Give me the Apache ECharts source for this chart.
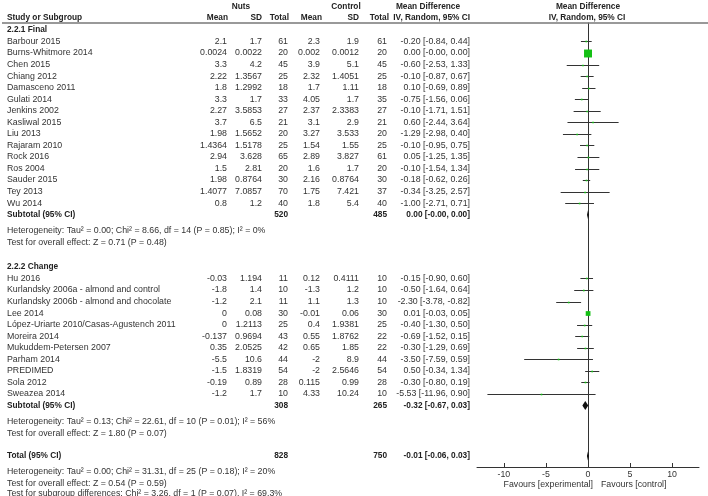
<!DOCTYPE html>
<html>
<head>
<meta charset="utf-8">
<script src="https://cdn.jsdelivr.net/npm/echarts@6/dist/echarts.min.js"></script>
<style>
html, body { margin: 0; padding: 0; background: #fff; }
#chart { width: 708px; height: 496px; }
</style>
</head>
<body>
<div id="chart"></div>
<script>
// 2.2.1 Final
const studies1 = ['Barbour 2015', 'Burns-Whitmore 2014', 'Chen 2015', 'Chiang 2012', 'Damasceno 2011', 'Gulati 2014', 'Jenkins 2002', 'Kasliwal 2015', 'Liu 2013', 'Rajaram 2010', 'Rock 2016', 'Ros 2004', 'Sauder 2015', 'Tey 2013', 'Wu 2014']
const nutsMean1 = ['2.1', '0.0024', '3.3', '2.22', '1.8', '3.3', '2.27', '3.7', '1.98', '1.4364', '2.94', '1.5', '1.98', '1.4077', '0.8']
const nutsSD1 = ['1.7', '0.0022', '4.2', '1.3567', '1.2992', '1.7', '3.5853', '6.5', '1.5652', '1.5178', '3.628', '2.81', '0.8764', '7.0857', '1.2']
const nutsN1 = [61, 20, 45, 25, 18, 33, 27, 21, 20, 25, 65, 20, 30, 70, 40]
const ctrlMean1 = ['2.3', '0.002', '3.9', '2.32', '1.7', '4.05', '2.37', '3.1', '3.27', '1.54', '2.89', '1.6', '2.16', '1.75', '1.8']
const ctrlSD1 = ['1.9', '0.0012', '5.1', '1.4051', '1.11', '1.7', '2.3383', '2.9', '3.533', '1.55', '3.827', '1.7', '0.8764', '7.421', '5.4']
const ctrlN1 = [61, 20, 45, 25, 18, 35, 27, 21, 20, 25, 61, 20, 30, 37, 40]
const md1 = [-0.20, 0.0004, -0.60, -0.10, 0.10, -0.75, -0.10, 0.60, -1.29, -0.10, 0.05, -0.10, -0.18, -0.34, -1.00]
const lo1 = [-0.84, -0.0007, -2.53, -0.87, -0.69, -1.56, -1.71, -2.44, -2.98, -0.95, -1.25, -1.54, -0.62, -3.25, -2.71]
const hi1 = [0.44, 0.0015, 1.33, 0.67, 0.89, 0.06, 1.51, 3.64, 0.40, 0.75, 1.35, 1.34, 0.26, 2.57, 0.71]
const weight1 = [0.5, 70, 0.3, 0.5, 0.5, 0.5, 0.3, 0.2, 0.3, 0.5, 0.4, 0.3, 1, 0.2, 0.3]

// 2.2.2 Change
const studies2 = ['Hu 2016', 'Kurlandsky 2006a - almond and control', 'Kurlandsky 2006b - almond and chocolate', 'Lee 2014', 'López-Uriarte 2010/Casas-Agustench 2011', 'Moreira 2014', 'Mukuddem-Petersen 2007', 'Parham 2014', 'PREDIMED', 'Sola 2012', 'Sweazea 2014']
const nutsMean2 = ['-0.03', '-1.8', '-1.2', '0', '0', '-0.137', '0.35', '-5.5', '-1.5', '-0.19', '-1.2']
const nutsSD2 = ['1.194', '1.4', '2.1', '0.08', '1.2113', '0.9694', '2.0525', '10.6', '1.8319', '0.89', '1.7']
const nutsN2 = [11, 10, 11, 30, 25, 43, 42, 44, 54, 28, 10]
const ctrlMean2 = ['0.12', '-1.3', '1.1', '-0.01', '0.4', '0.55', '0.65', '-2', '-2', '0.115', '4.33']
const ctrlSD2 = ['0.4111', '1.2', '1.3', '0.06', '1.9381', '1.8762', '1.85', '8.9', '2.5646', '0.99', '10.24']
const ctrlN2 = [10, 10, 10, 30, 25, 22, 22, 44, 54, 28, 10]
const md2 = [-0.15, -0.50, -2.30, 0.01, -0.40, -0.69, -0.30, -3.50, 0.50, -0.30, -5.53]
const lo2 = [-0.90, -1.64, -3.78, -0.03, -1.30, -1.52, -1.29, -7.59, -0.34, -0.80, -11.96]
const hi2 = [0.60, 0.64, -0.82, 0.05, 0.50, 0.15, 0.69, 0.59, 1.34, 0.19, 0.90]
const weight2 = [0.5, 0.4, 0.3, 25, 0.5, 0.5, 0.4, 0.1, 0.5, 1, 0.05]

// pooled: [nuts total, control total, md, lo, hi]
const subtotal1 = [520, 485, 0.0004, -0.0007, 0.0015]
const subtotal2 = [308, 265, -0.32, -0.67, 0.03]
const total = [828, 750, -0.01, -0.06, 0.03]

const het1 = 'Heterogeneity: Tau² = 0.00; Chi² = 8.66, df = 14 (P = 0.85); I² = 0%'
const eff1 = 'Test for overall effect: Z = 0.71 (P = 0.48)'
const het2 = 'Heterogeneity: Tau² = 0.13; Chi² = 22.61, df = 10 (P = 0.01); I² = 56%'
const eff2 = 'Test for overall effect: Z = 1.80 (P = 0.07)'
const hetT = 'Heterogeneity: Tau² = 0.00; Chi² = 31.31, df = 25 (P = 0.18); I² = 20%'
const effT = 'Test for overall effect: Z = 0.54 (P = 0.59)'
const subDiff = 'Test for subgroup differences: Chi² = 3.26, df = 1 (P = 0.07), I² = 69.3%'

const xTicks = [-10, -5, 0, 5, 10]

// layout
const FONT = '"Liberation Sans", Arial, sans-serif'
const FS = 8.8
const FS_BOLD = 8.3
const COL = { study: 7, nm: 227, ns: 262, nn: 288, cm: 320, cs: 359, cn: 387, ci: 470 }

const fmtCI = (m, l, h) => `${m.toFixed(2)} [${l.toFixed(2)}, ${h.toFixed(2)}]`
const cell = (text, x, align, bold) => ({ text: String(text), x, align: align || 'right', bold: !!bold })

const rows = []
const studyPts = []
const pooledPts = []

rows.push({ pos: -3.0, cells: [cell('Nuts', 241, 'center', true), cell('Control', 346, 'center', true), cell('Mean Difference', 428, 'center', true), cell('Mean Difference', 588, 'center', true)] })
rows.push({ pos: -2.03, cells: [
  cell('Study or Subgroup', COL.study, 'left', true), cell('Mean', COL.nm + 1, 'right', true), cell('SD', COL.ns, 'right', true),
  cell('Total', COL.nn + 1, 'right', true), cell('Mean', COL.cm + 2, 'right', true), cell('SD', COL.cs, 'right', true),
  cell('Total', COL.cn + 2, 'right', true), cell('IV, Random, 95% CI', COL.ci, 'right', true), cell('IV, Random, 95% CI', 587, 'center', true)
] })

function addGroup (start, title, g, sub, het, eff) {
  rows.push({ pos: start, cells: [cell(title, COL.study, 'left', true)] })
  let pos = start + 1.06
  g.names.forEach((name, i) => {
    rows.push({ pos, cells: [
      cell(name, COL.study, 'left'), cell(g.nm[i], COL.nm), cell(g.ns[i], COL.ns), cell(g.nn[i], COL.nn),
      cell(g.cm[i], COL.cm), cell(g.cs[i], COL.cs), cell(g.cn[i], COL.cn), cell(fmtCI(g.md[i], g.lo[i], g.hi[i]), COL.ci)
    ] })
    studyPts.push([g.md[i], g.lo[i], g.hi[i], pos, g.w[i]])
    pos += 1
  })
  rows.push({ pos, cells: [cell('Subtotal (95% CI)', COL.study, 'left', true), cell(sub[0], COL.nn, 'right', true), cell(sub[1], COL.cn, 'right', true), cell(fmtCI(sub[2], sub[3], sub[4]), COL.ci, 'right', true)] })
  pooledPts.push([sub[2], sub[3], sub[4], pos])
  rows.push({ pos: pos + 1.36, cells: [cell(het, COL.study, 'left')] })
  rows.push({ pos: pos + 2.41, cells: [cell(eff, COL.study, 'left')] })
  return pos + 2.41
}

let end = addGroup(-1.02, '2.2.1 Final',
  { names: studies1, nm: nutsMean1, ns: nutsSD1, nn: nutsN1, cm: ctrlMean1, cs: ctrlSD1, cn: ctrlN1, md: md1, lo: lo1, hi: hi1, w: weight1 },
  subtotal1, het1, eff1)
end = addGroup(end + 2.05, '2.2.2 Change',
  { names: studies2, nm: nutsMean2, ns: nutsSD2, nn: nutsN2, cm: ctrlMean2, cs: ctrlSD2, cn: ctrlN2, md: md2, lo: lo2, hi: hi2, w: weight2 },
  subtotal2, het2, eff2)

const totPos = end + 1.95
rows.push({ pos: totPos, cells: [cell('Total (95% CI)', COL.study, 'left', true), cell(total[0], COL.nn, 'right', true), cell(total[1], COL.cn, 'right', true), cell(fmtCI(total[2], total[3], total[4]), COL.ci, 'right', true)] })
pooledPts.push([total[2], total[3], total[4], totPos])
rows.push({ pos: totPos + 1.33, cells: [cell(hetT, COL.study, 'left')] })
rows.push({ pos: totPos + 2.37, cells: [cell(effT, COL.study, 'left')] })
rows.push({ pos: totPos + 3.3, cells: [cell(subDiff, COL.study, 'left')] })

const chart = echarts.init(document.getElementById('chart'))

chart.setOption({
  animation: false,
  backgroundColor: '#fff',
  grid: { left: 477, top: 23, width: 222, height: 444 },
  xAxis: {
    type: 'value',
    min: -13.2,
    max: 13.2,
    axisLine: { onZero: false, lineStyle: { color: '#333', width: 1 } },
    axisTick: { inside: true, length: 4, customValues: xTicks, lineStyle: { color: '#333' } },
    axisLabel: { customValues: xTicks, margin: 3, fontSize: FS, fontFamily: FONT, color: '#333' },
    splitLine: { show: false }
  },
  yAxis: {
    type: 'value',
    inverse: true,
    min: -1.558,
    max: 36.883,
    axisLine: { show: true, onZero: true, lineStyle: { color: '#333', width: 1 } },
    axisTick: { show: false },
    axisLabel: { show: false },
    splitLine: { show: false }
  },
  graphic: [
    { type: 'line', shape: { x1: 2, y1: 23, x2: 708, y2: 23 }, style: { stroke: '#777', lineWidth: 1.5 }, z: 10 },
    { type: 'text', x: 593, y: 485, style: { text: 'Favours [experimental]', align: 'right', verticalAlign: 'middle', fontSize: FS, fontFamily: FONT, fill: '#333' } },
    { type: 'text', x: 601, y: 485, style: { text: 'Favours [control]', align: 'left', verticalAlign: 'middle', fontSize: FS, fontFamily: FONT, fill: '#333' } }
  ],
  series: [
    {
      // table text
      type: 'custom',
      clip: false,
      silent: true,
      data: rows.map(r => [r.pos]),
      renderItem (params, api) {
        const y = api.coord([0, api.value(0)])[1]
        return {
          type: 'group',
          children: rows[params.dataIndex].cells.map(c => ({
            type: 'text',
            x: c.x,
            y: y,
            style: {
              text: c.text,
              align: c.align,
              verticalAlign: 'middle',
              fontSize: c.bold ? FS_BOLD : FS,
              fontFamily: FONT,
              fontWeight: c.bold ? 'bold' : 'normal',
              fill: c.bold ? '#222' : '#333'
            }
          }))
        }
      }
    },
    {
      // study CIs and weight boxes
      type: 'custom',
      clip: false,
      silent: true,
      data: studyPts,
      renderItem (params, api) {
        const y = Math.round(api.coord([0, api.value(3)])[1]) + 0.5
        const xl = api.coord([api.value(1), 0])[0]
        const xh = api.coord([api.value(2), 0])[0]
        const xm = api.coord([api.value(0), 0])[0]
        const s = Math.max(1.6, Math.sqrt(api.value(4)) * 0.95)
        return {
          type: 'group',
          children: [
            { type: 'line', shape: { x1: xl, y1: y, x2: xh, y2: y }, style: { stroke: '#333', lineWidth: 1 } },
            { type: 'rect', shape: { x: xm - s / 2, y: y - s / 2, width: s, height: s }, style: { fill: '#14c014' } }
          ]
        }
      }
    },
    {
      // pooled diamonds
      type: 'custom',
      clip: false,
      silent: true,
      data: pooledPts,
      renderItem (params, api) {
        const y = api.coord([0, api.value(3)])[1]
        const xm = api.coord([api.value(0), 0])[0]
        let xl = api.coord([api.value(1), 0])[0]
        let xh = api.coord([api.value(2), 0])[0]
        if (xh - xl < 2) { xl = xm - 1; xh = xm + 1 }
        return {
          type: 'polygon',
          shape: { points: [[xl, y], [xm, y - 4.5], [xh, y], [xm, y + 4.5]] },
          style: { fill: '#111' }
        }
      }
    }
  ]
})
</script>
</body>
</html>
